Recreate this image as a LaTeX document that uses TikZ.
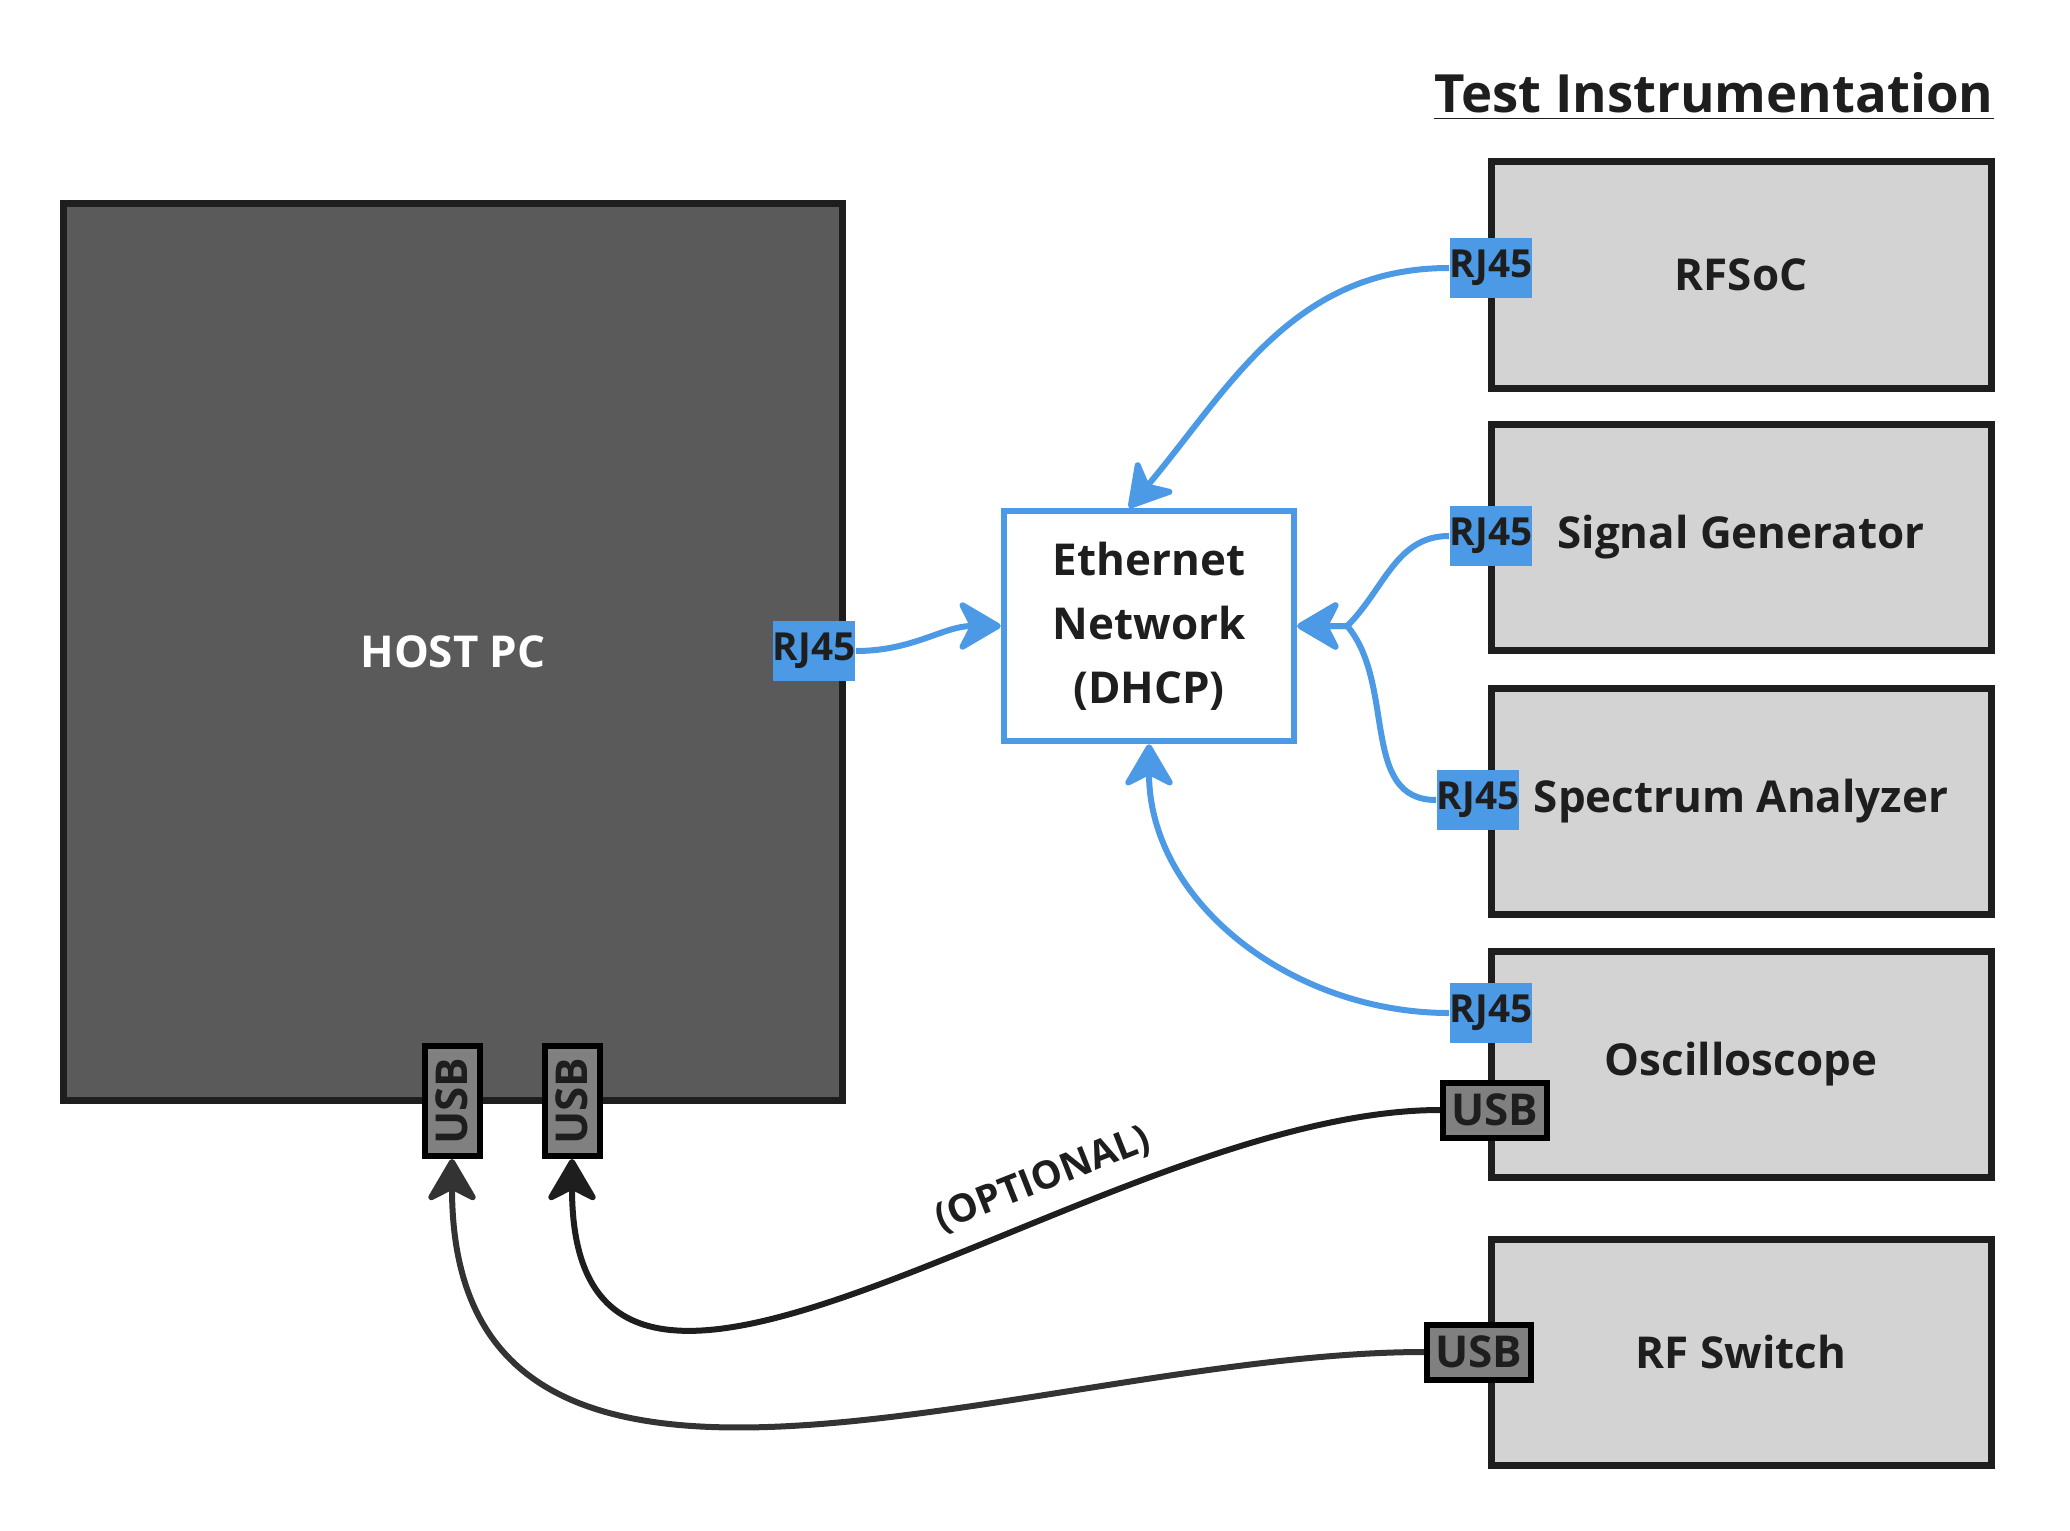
\documentclass[tikz,border=0pt]{standalone}
\usepackage{fontspec}
\setmainfont{Open Sans}
\usepackage{xcolor}
\usetikzlibrary{positioning,arrows.meta,calc}

\definecolor{hostgray}{HTML}{5A5A5A}
\definecolor{boxgray}{HTML}{D3D3D3}
\definecolor{edgeblack}{HTML}{1E1E1E}
\definecolor{netblue}{HTML}{4C9AE6}
\definecolor{portgray}{HTML}{808080}
\definecolor{cablegray}{HTML}{333333}

\begin{document}
\begin{tikzpicture}[
        device/.style = {draw=edgeblack, fill=boxgray, line width=0.07cm, minimum width=5cm, minimum height=2.26cm, text=edgeblack, font=\fontsize{12.5}{15}\selectfont\bfseries},
        rjport/.style = {fill=netblue, inner sep=0pt, minimum width=0.7cm, minimum height=0.6cm, text=edgeblack, font=\fontsize{11}{13}\selectfont\bfseries},
        usbport/.style = {draw=black, fill=portgray, line width=0.06cm, inner sep=0pt, text=edgeblack, font=\fontsize{12.5}{15}\selectfont\bfseries},
        tip/.style = {-{Stealth[length=0.48cm, width=0.56cm, inset=0.14cm, round]}},
        netlink/.style = {tip, netblue, line width=0.06cm},
        usblink/.style = {tip, line width=0.06cm}
    ]
            \useasboundingbox (0, 0) rectangle (20.7, -15.3);

            % host side
            \node[draw=edgeblack, fill=hostgray, line width=0.07cm, minimum width=7.79cm, minimum height=8.97cm, text=white, font=\fontsize{12.5}{15}\selectfont\bfseries] (host) at (4.53, -6.52) {HOST PC};
            \node[rjport] (hrj) at (8.14, -6.51) {RJ45};
            \node[usbport, minimum width=0.55cm, minimum height=1.1cm] (hu1) at (4.52, -11.01) {\rotatebox{90}{USB}};
            \node[usbport, minimum width=0.55cm, minimum height=1.1cm] (hu2) at (5.72, -11.01) {\rotatebox{90}{USB}};

            \node[draw=netblue, fill=white, line width=0.065cm, minimum width=2.9cm, minimum height=2.3cm, align=center, text=edgeblack, font=\fontsize{12.5}{18.2}\selectfont\bfseries] (eth) at (11.49, -6.26) {Ethernet\\Network\\(DHCP)};

            % instruments
            \node[anchor=base east, text=edgeblack, font=\fontsize{15}{18}\selectfont\bfseries] (title) at (20.06, -1.13) {\underline{Test Instrumentation}};
            \node[device] (rfsoc) at (17.41, -2.75) {RFSoC};
            \node[device] (siggen) at (17.41, -5.37) {Signal Generator};
            \node[device] (specan) at (17.41, -8.01) {Spectrum Analyzer};
            \node[device] (scope) at (17.41, -10.64) {Oscilloscope};
            \node[device] (rfsw) at (17.41, -13.52) {RF Switch};

            \node[rjport] (rfrj) at (14.91, -2.68) {RJ45};
            \node[rjport] (sgrj) at (14.91, -5.36) {RJ45};
            \node[rjport] (sarj) at (14.78, -8.00) {RJ45};
            \node[rjport] (scrj) at (14.91, -10.13) {RJ45};
            \node[usbport, minimum width=1.04cm, minimum height=0.55cm] (scusb) at (14.95, -11.10) {USB};
            \node[usbport, minimum width=1.04cm, minimum height=0.55cm] (rfusb) at (14.79, -13.52) {USB};

            % network cables
            \draw[netlink] (hrj.east) to[out=0, in=180] (eth.west);
            \draw[netlink] (rfrj.west) to[out=180, in=50] ([xshift=-0.2cm]eth.north);
            \draw[netlink] (sgrj.west) to[out=180, in=45] ([xshift=0.5cm]eth.east) -- (eth.east);
            \draw[netlink] (sarj.west) to[out=180, in=-50] ([xshift=0.5cm]eth.east) -- (eth.east);
            \draw[netlink] (scrj.west) to[out=180, in=-90] (eth.south);

            % usb cables
            \draw[usblink, edgeblack] (scusb.west) to[out=180, in=-90, in looseness=1.15] node[sloped, above=1pt, pos=0.34, font=\fontsize{11}{13}\selectfont\bfseries] {(OPTIONAL)} (hu2.south);
            \draw[usblink, cablegray] (rfusb.west) to[out=180, in=-90, in looseness=1.15] (hu1.south);

        \end{tikzpicture}
\end{document}
